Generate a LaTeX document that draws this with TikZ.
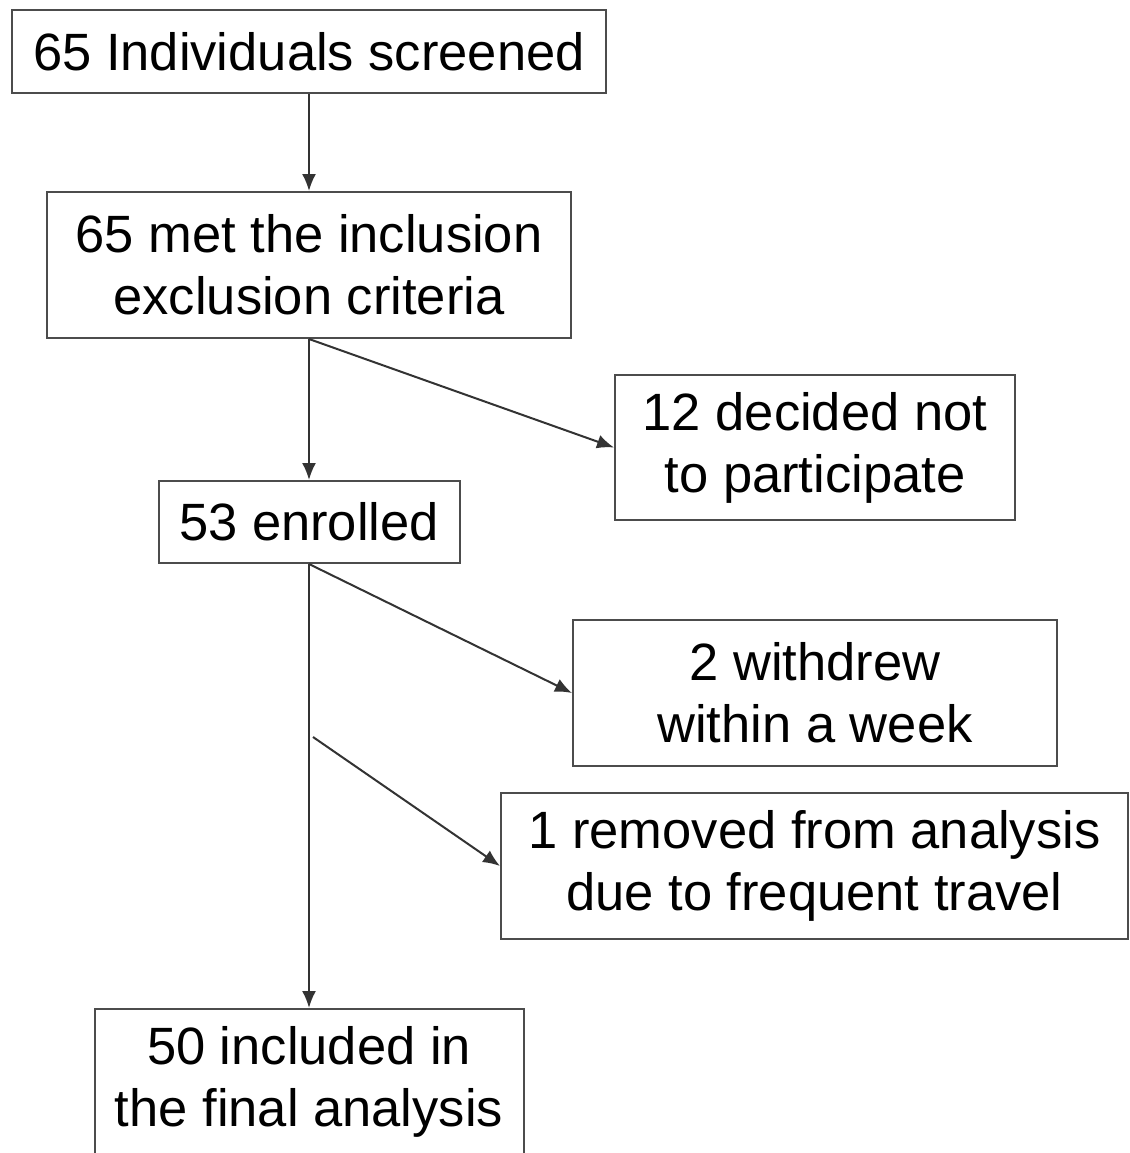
\documentclass[tikz,border=0pt]{standalone}
\usepackage{fontspec}
\setmainfont{Liberation Sans}
\usetikzlibrary{arrows.meta}
\tikzset{
  flowbox/.style={draw=black!70,line width=2pt,inner sep=0pt,align=center,
    font=\fontsize{52.5}{62}\selectfont},
  flowline/.style={draw=black!80,line width=2pt,-{Latex[length=17pt,width=14pt]}}
}
\begin{document}
\begin{tikzpicture}[x=1pt,y=-1pt]
\useasboundingbox (0,0) rectangle (1129,1153);
\node[flowbox,minimum width=594pt,minimum height=83pt] (screened) at (309,51.5) {65 Individuals screened};
\node[flowbox,minimum width=524pt,minimum height=146pt] (eligible) at (309,265) {65 met the inclusion\\exclusion criteria};
\node[flowbox,minimum width=301pt,minimum height=82pt] (enrolled) at (309,522) {53 enrolled};
\node[flowbox,minimum width=400pt,minimum height=145pt] (declined) at (815,447.5) {12 decided not\\to participate};
\node[flowbox,minimum width=484pt,minimum height=146pt] (withdrew) at (815,693) {2 withdrew\\within a week};
\node[flowbox,minimum width=627pt,minimum height=146pt] (removed) at (814.5,866) {1 removed from analysis\\due to frequent travel};
\node[flowbox,minimum width=429pt,minimum height=146pt] (analysed) at (309,1082) {50 included in\\the final analysis};
\coordinate (split) at (313,737);

\draw[flowline] (screened) -- (eligible);
\draw[flowline] (eligible) -- (enrolled);
\draw[flowline] (eligible.south) -- (declined.west);
\draw[flowline] (enrolled) -- (analysed);
\draw[flowline] (enrolled.south) -- (withdrew.west);
\draw[flowline] (split) -- (removed.west);
\end{tikzpicture}
\end{document}
